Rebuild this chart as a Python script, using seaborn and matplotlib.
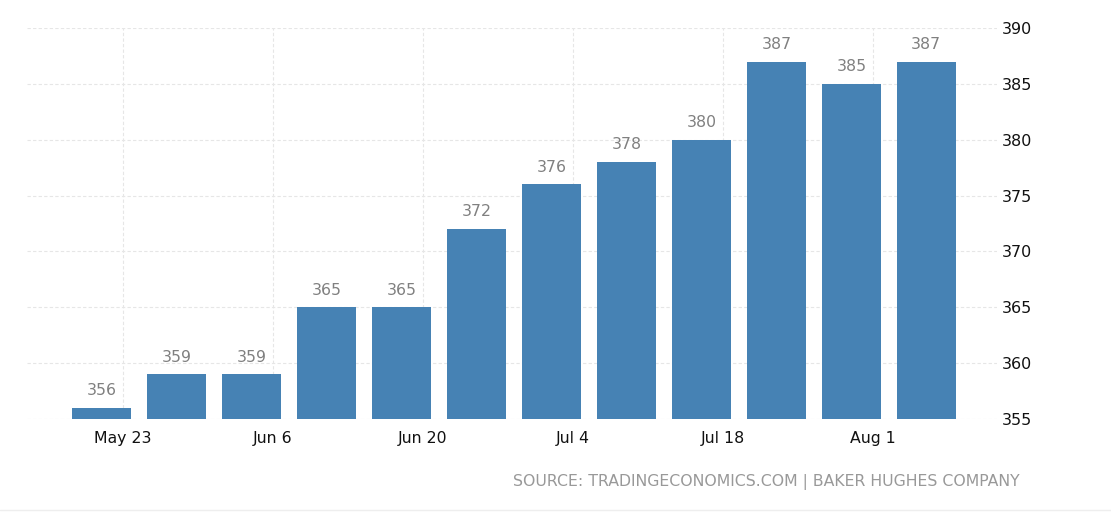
#! /usr/bin/env python3
'''
Weekly rig count bar chart (Tradingeconomics style)
'''

# imports
from datetime import date, timedelta
from matplotlib.dates import date2num, num2date
from matplotlib.ticker import FixedLocator, FuncFormatter, MultipleLocator
import matplotlib.pyplot as plt
import seaborn as sns

# data
WEEKS = ['2022-05-20', '2022-05-27', '2022-06-03', '2022-06-10', '2022-06-17', '2022-06-24',
         '2022-07-01', '2022-07-08', '2022-07-15', '2022-07-22', '2022-07-29', '2022-08-05']
RIGS = [356, 359, 359, 365, 365, 372, 376, 378, 380, 387, 385, 387]
TICK_DATES = ['2022-05-23', '2022-06-06', '2022-06-20', '2022-07-04', '2022-07-18', '2022-08-01']
SOURCE = 'SOURCE: TRADINGECONOMICS.COM | BAKER HUGHES COMPANY'

# style
BAR_COLOR = '#4682b4'
GRID_COLOR = '#e6e6e6'
LABEL_COLOR = '#808080'
SOURCE_COLOR = '#999999'
BAR_SHIFT = 1  # days, bars drawn a day after the report date

sns.set_style('white')
plt.rcParams['font.family'] = ['DejaVu Sans']

if __name__ == "__main__":
    x = [date2num(date.fromisoformat(d) + timedelta(days=BAR_SHIFT)) for d in WEEKS]
    ticks = [date2num(date.fromisoformat(d)) for d in TICK_DATES]

    fig = plt.figure(figsize=(11.11, 5.12), dpi=100)
    ax = fig.add_axes([27 / 1111, 1 - 419 / 512, 970 / 1111, 391 / 512])
    sns.barplot(x=x, y=RIGS, native_scale=True, color=BAR_COLOR, saturation=1,
                width=0.79, linewidth=0, ax=ax)

    # value labels
    ax.bar_label(ax.containers[0], padding=7, color=LABEL_COLOR, fontsize=11.3)

    # axes
    ax.set_ylim(355, 390)
    ax.set_xlim(x[0] - 6.95, x[-1] + 6.6)
    ax.yaxis.set_major_locator(MultipleLocator(5))
    ax.xaxis.set_major_locator(FixedLocator(ticks))
    ax.xaxis.set_major_formatter(FuncFormatter(lambda v, p: f"{num2date(v):%b} {num2date(v).day}"))
    ax.yaxis.tick_right()
    ax.tick_params(axis='y', length=0, pad=3.5, labelsize=11.5, labelcolor='#111111')
    ax.tick_params(axis='x', length=4, width=0.8, color='#cccccc', pad=4.5,
                   labelsize=11.3, labelcolor='#111111')
    ax.grid(True, color=GRID_COLOR, linestyle=(0, (3, 2)), linewidth=0.8)
    ax.set_axisbelow(True)
    for s in ax.spines.values():
        s.set_visible(False)

    # source
    fig.text(1020 / 1111, 1 - 482 / 512, SOURCE, ha='right', va='center',
             color=SOURCE_COLOR, fontsize=11.3)
    fig.add_artist(plt.Line2D([0, 1], [1 - 510 / 512] * 2, color='#eeeeee', linewidth=1))

    fig.savefig('out.png', dpi=100)
